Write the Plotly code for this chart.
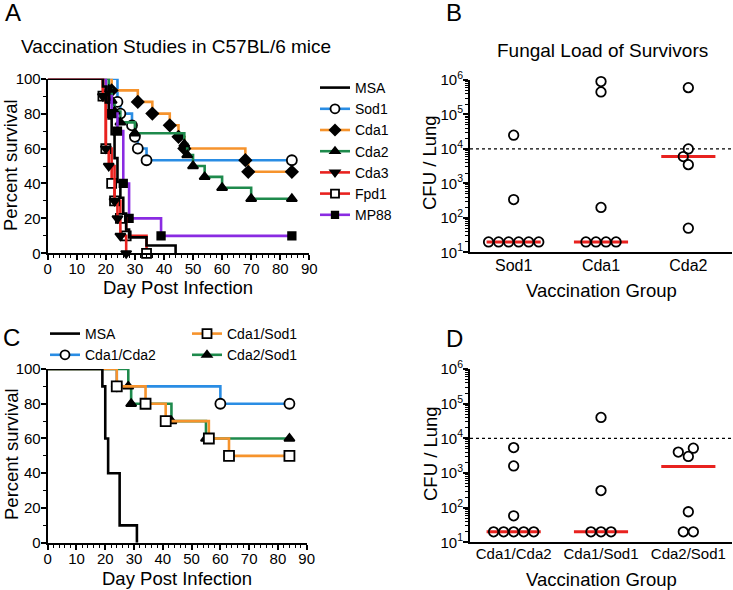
import numpy as np
import plotly.graph_objects as go

# ---------------- Data ----------------
END_DAY = 84

# Panel A: Kaplan-Meier events (day of death, percent surviving after it)
A_names = ["MSA", "Sod1", "Cda1", "Cda2", "Cda3", "Fpd1", "MP88"]
A_MSA_days = [19, 20, 21, 22, 23, 24, 25, 26, 27, 28, 34, 44]
A_MSA_surv = [95.5, 86.4, 77.3, 68.2, 54.5, 40.9, 31.8, 22.7, 13.6, 9.1, 4.5, 0]
A_Sod1_days = [24, 25, 29, 30, 31, 34]
A_Sod1_surv = [86.7, 80, 73.3, 66.7, 60, 53.3]
A_Cda1_days = [22, 31, 36, 42, 45, 47, 68, 69]
A_Cda1_surv = [93.3, 86.7, 80, 73.3, 66.7, 60, 53.3, 46.7]
A_Cda2_days = [21, 22, 23, 25, 30, 47, 48, 50, 54, 60, 70]
A_Cda2_surv = [93.75, 87.5, 81.25, 75, 68.75, 62.5, 56.25, 50, 43.75, 37.5, 31.25]
A_Cda3_days = [19, 20, 21, 23, 24, 25, 27]
A_Cda3_surv = [90, 60, 50, 30, 20, 10, 0]
A_Fpd1_days = [19, 20, 22, 23, 25, 27, 34]
A_Fpd1_surv = [90, 60, 40, 30, 20, 10, 0]
A_MP88_days = [20, 22, 24, 26, 28, 39]
A_MP88_surv = [90, 80, 70, 40, 20, 10]

# Panel C
C_names = ["MSA", "Cda1/Cda2", "Cda1/Sod1", "Cda2/Sod1"]
C_MSA_days = [19, 20, 21, 25, 31]
C_MSA_surv = [90, 60, 40, 10, 0]
C_Cda1Cda2_days = [24, 60]
C_Cda1Cda2_surv = [90, 80]
C_Cda1Sod1_days = [24, 34, 41, 56, 63]
C_Cda1Sod1_surv = [90, 80, 70, 60, 50]
C_Cda2Sod1_days = [28, 29, 43, 55]
C_Cda2Sod1_surv = [90, 80, 70, 60]

# Panel B: CFU / lung of survivors
B_groups = ["Sod1", "Cda1", "Cda2"]
B_Sod1 = [20, 20, 20, 20, 20, 20, 340, 25000]
B_Cda1 = [20, 20, 20, 20, 200, 450000, 900000]
B_Cda2 = [50, 3500, 6000, 10000, 600000]

# Panel D
D_groups = ["Cda1/Cda2", "Cda1/Sod1", "Cda2/Sod1"]
D_Cda1Cda2 = [20, 20, 20, 20, 20, 58, 1600, 5400]
D_Cda1Sod1 = [20, 20, 20, 310, 40000]
D_Cda2Sod1 = [20, 20, 76, 3000, 4000, 5200]

THRESHOLD = 1e4
LOG_TICKS = [1e1, 1e2, 1e3, 1e4, 1e5, 1e6]
LOG_TICKTEXT = ["10<sup>1</sup>", "10<sup>2</sup>", "10<sup>3</sup>",
                "10<sup>4</sup>", "10<sup>5</sup>", "10<sup>6</sup>"]

# ---------------- Styles ----------------
FONT = "Liberation Sans, Arial, sans-serif"
W, H = 733, 590
BLUE = "#2a8de4"
ORANGE = "#f6932c"
GREEN = "#1e8a4c"
RED = "#e8221f"
PURPLE = "#8a2be2"

A_style = {
    "MSA": dict(color="black", symbol=None),
    "Sod1": dict(color=BLUE, symbol="circle", fill="white", size=10),
    "Cda1": dict(color=ORANGE, symbol="diamond", fill="black", size=9),
    "Cda2": dict(color=GREEN, symbol="triangle-up", fill="black", size=9),
    "Cda3": dict(color=RED, symbol="triangle-down", fill="black", size=9),
    "Fpd1": dict(color=RED, symbol="square", fill="white", size=9),
    "MP88": dict(color=PURPLE, symbol="square", fill="black", size=7.5),
}
C_style = {
    "MSA": dict(color="black", symbol=None),
    "Cda1/Cda2": dict(color=BLUE, symbol="circle", fill="white", size=10),
    "Cda1/Sod1": dict(color=ORANGE, symbol="square", fill="white", size=10),
    "Cda2/Sod1": dict(color=GREEN, symbol="triangle-up", fill="black", size=9),
}

A_data = {
    "MSA": (A_MSA_days, A_MSA_surv), "Sod1": (A_Sod1_days, A_Sod1_surv),
    "Cda1": (A_Cda1_days, A_Cda1_surv), "Cda2": (A_Cda2_days, A_Cda2_surv),
    "Cda3": (A_Cda3_days, A_Cda3_surv), "Fpd1": (A_Fpd1_days, A_Fpd1_surv),
    "MP88": (A_MP88_days, A_MP88_surv),
}
C_data = {
    "MSA": (C_MSA_days, C_MSA_surv), "Cda1/Cda2": (C_Cda1Cda2_days, C_Cda1Cda2_surv),
    "Cda1/Sod1": (C_Cda1Sod1_days, C_Cda1Sod1_surv),
    "Cda2/Sod1": (C_Cda2Sod1_days, C_Cda2Sod1_surv),
}
B_data = [B_Sod1, B_Cda1, B_Cda2]
D_data = [D_Cda1Cda2, D_Cda1Sod1, D_Cda2Sod1]

fig = go.Figure()
LW = 2.6


def km_traces(name, days, surv, st, xa, ya, legend, rank):
    xs = [0] + list(days)
    ys = [100] + list(surv)
    mx, my = list(days), list(surv)
    if surv[-1] > 0:
        xs.append(END_DAY)
        ys.append(surv[-1])
        mx.append(END_DAY)
        my.append(surv[-1])
    fig.add_trace(go.Scatter(x=xs, y=ys, mode="lines", line=dict(color=st["color"], width=LW, shape="hv"),
                             xaxis=xa, yaxis=ya, showlegend=False, cliponaxis=False, hoverinfo="skip"))
    if st["symbol"]:
        fig.add_trace(go.Scatter(x=mx, y=my, mode="markers",
                                 marker=dict(symbol=st["symbol"], size=st["size"], color=st["fill"],
                                             line=dict(color="black", width=1.8)),
                                 xaxis=xa, yaxis=ya, showlegend=False, cliponaxis=False))
        fig.add_trace(go.Scatter(x=[None], y=[None], mode="lines+markers", name=name,
                                 line=dict(color=st["color"], width=LW),
                                 marker=dict(symbol=st["symbol"], size=st["size"] - 1, color=st["fill"],
                                             line=dict(color="black", width=1.8)),
                                 xaxis=xa, yaxis=ya, legend=legend, legendrank=rank))
    else:
        fig.add_trace(go.Scatter(x=[None], y=[None], mode="lines", name=name,
                                 line=dict(color=st["color"], width=LW),
                                 xaxis=xa, yaxis=ya, legend=legend, legendrank=rank))


A_draw_order = ["Sod1", "Cda1", "Cda2", "MP88", "Fpd1", "Cda3", "MSA"]
for nm in A_draw_order:
    d, s = A_data[nm]
    km_traces(nm, d, s, A_style[nm], "x", "y", "legend", 1000 + A_names.index(nm))

# panel C legend: two columns, each a separate legend box
C_legend_of = {"MSA": "legend2", "Cda1/Cda2": "legend2", "Cda1/Sod1": "legend3", "Cda2/Sod1": "legend3"}
for nm in ["Cda1/Cda2", "Cda2/Sod1", "Cda1/Sod1", "MSA"]:
    d, s = C_data[nm]
    km_traces(nm, d, s, C_style[nm], "x3", "y3", C_legend_of[nm], 1000 + C_names.index(nm))


# ---------- scatter panels ----------
PX_PER_DECADE = 34.5
PX_PER_CAT = 87.0
DIAM = 9.5
STEP = 5.0


def swarm_offsets(vals):
    vals = np.asarray(vals, float)
    order = np.argsort(vals, kind="stable")
    offs = np.zeros(len(vals))
    placed = []
    uniq, counts = np.unique(vals, return_counts=True)
    for u, c in zip(uniq, counts):
        idx = [i for i in order if vals[i] == u]
        ypx = np.log10(u) * PX_PER_DECADE
        if c > 1:
            for k, i in enumerate(idx):
                offs[i] = (k - (c - 1) / 2) * 2 * STEP
                placed.append((offs[i], ypx))
        else:
            cands = [0]
            for m in range(1, 10):
                cands += [-m * STEP, m * STEP]
            for cx in cands:
                if all(np.hypot(cx - px_, ypx - py_) >= DIAM - 0.6 for px_, py_ in placed):
                    break
            offs[idx[0]] = cx
            placed.append((cx, ypx))
    return offs / PX_PER_CAT


def scatter_panel(groups, data, xa, ya):
    for i, vals in enumerate(data):
        offs = swarm_offsets(vals)
        med = float(np.median(vals))
        fig.add_trace(go.Scatter(x=[i - 0.31, i + 0.31], y=[med, med], mode="lines",
                                 line=dict(color=RED, width=3), xaxis=xa, yaxis=ya,
                                 showlegend=False, hoverinfo="skip"))
        fig.add_trace(go.Scatter(x=i + offs, y=vals, mode="markers",
                                 marker=dict(symbol="circle", size=DIAM, color="rgba(255,255,255,0)",
                                             line=dict(color="black", width=1.8)),
                                 xaxis=xa, yaxis=ya, showlegend=False, cliponaxis=False))
    fig.add_trace(go.Scatter(x=[-0.5, len(groups) - 0.5], y=[THRESHOLD, THRESHOLD], mode="lines",
                             line=dict(color="black", width=1.3, dash="dot"),
                             xaxis=xa, yaxis=ya, showlegend=False, hoverinfo="skip"))


scatter_panel(B_groups, B_data, "x2", "y2")
scatter_panel(D_groups, D_data, "x4", "y4")


# ---------------- Layout ----------------
def px(xp):
    return xp / W


def py(yp):
    return 1 - yp / H


axis_common = dict(showline=True, linecolor="black", linewidth=2, ticks="outside",
                   tickcolor="black", tickwidth=1.8, showgrid=False, zeroline=False,
                   automargin=False,
                   tickfont=dict(family=FONT, size=15, color="black"), mirror=False)

surv_x = dict(axis_common, range=[0, 90], dtick=10, tick0=0, ticklen=5, ticklabelstandoff=-4,
              minor=dict(dtick=2, tick0=0, ticks="outside", ticklen=3, tickwidth=1.3, tickcolor="black"))
surv_y = dict(axis_common, range=[0, 100], dtick=20, tick0=0, ticklen=5, ticklabelstandoff=-3,
              minor=dict(dtick=10, tick0=0, ticks="outside", ticklen=3, tickwidth=1.3, tickcolor="black"))
log_y = dict(axis_common, type="log", range=[1, 6], tickvals=LOG_TICKS, ticktext=LOG_TICKTEXT, ticklen=5,
             ticklabelstandoff=-3,
             minor=dict(ticks="outside", ticklen=3, tickwidth=1, dtick="D1", tickcolor="black"))


def cat_x(groups, size):
    return dict(axis_common, range=[-0.5, len(groups) - 0.5], tickvals=list(range(len(groups))),
                ticktext=groups, ticks="", ticklabelstandoff=-3,
                tickfont=dict(family=FONT, size=size, color="black"))


xA = [px(47.7), px(309.3)]
xC = [px(47.7), px(306.7)]
xB = [px(470), px(732)]
yA = [py(253.3), py(78.7)]
yB = [py(252.3), py(80)]
yC = [py(542.7), py(369)]
yD = [py(542.3), py(369)]

leg_common = dict(xanchor="left", yanchor="top", font=dict(family=FONT, size=14, color="black"),
                  bgcolor="rgba(0,0,0,0)", itemwidth=30, tracegroupgap=0)

fig.update_layout(
    width=W, height=H, margin=dict(l=0, r=0, t=0, b=0, autoexpand=False),
    paper_bgcolor="white", plot_bgcolor="white",
    font=dict(family=FONT, color="black"),
    xaxis=dict(surv_x, domain=xA, anchor="y"),
    yaxis=dict(surv_y, domain=yA, anchor="x"),
    xaxis2=dict(cat_x(B_groups, 16), domain=xB, anchor="y2"),
    yaxis2=dict(log_y, domain=yB, anchor="x2"),
    xaxis3=dict(surv_x, domain=xC, anchor="y3"),
    yaxis3=dict(surv_y, domain=yC, anchor="x3"),
    xaxis4=dict(cat_x(D_groups, 15), domain=xB, anchor="y4"),
    yaxis4=dict(log_y, domain=yD, anchor="x4"),
    showlegend=True,
    legend=dict(leg_common, x=px(315), y=py(72)),
    legend2=dict(leg_common, x=px(45), y=py(318)),
    legend3=dict(leg_common, x=px(187), y=py(318)),
)

annos = [
    ("A", 3, 12, 24, 0, "left"), ("B", 444, 12, 24, 0, "left"),
    ("C", 1, 337, 24, 0, "left"), ("D", 444, 338, 24, 0, "left"),
    ("Vaccination Studies in C57BL/6 mice", 176, 47, 19, 0, "center"),
    ("Fungal Load of Survivors", 602, 50, 19, 0, "center"),
    ("Percent survival", 11, 165, 18.5, -90, "center"),
    ("Day Post Infection", 178, 287, 18.5, 0, "center"),
    ("CFU / Lung", 430, 163, 18.5, -90, "center"),
    ("Vaccination Group", 601, 290, 18.5, 0, "center"),
    ("Percent survival", 11, 454, 18.5, -90, "center"),
    ("Day Post Infection", 177, 578, 18.5, 0, "center"),
    ("CFU / Lung", 430, 454, 18.5, -90, "center"),
    ("Vaccination Group", 601, 579, 18.5, 0, "center"),
]
for text, xp, yp, size, ang, anc in annos:
    fig.add_annotation(text=text, x=px(xp), y=py(yp), xref="paper", yref="paper",
                       xanchor=anc, yanchor="middle", showarrow=False, textangle=ang,
                       font=dict(family=FONT, size=size, color="black"))

fig.write_html("out.html", config={"displayModeBar": False},
               post_script="document.body.style.margin='0';document.body.style.overflow='hidden';")
